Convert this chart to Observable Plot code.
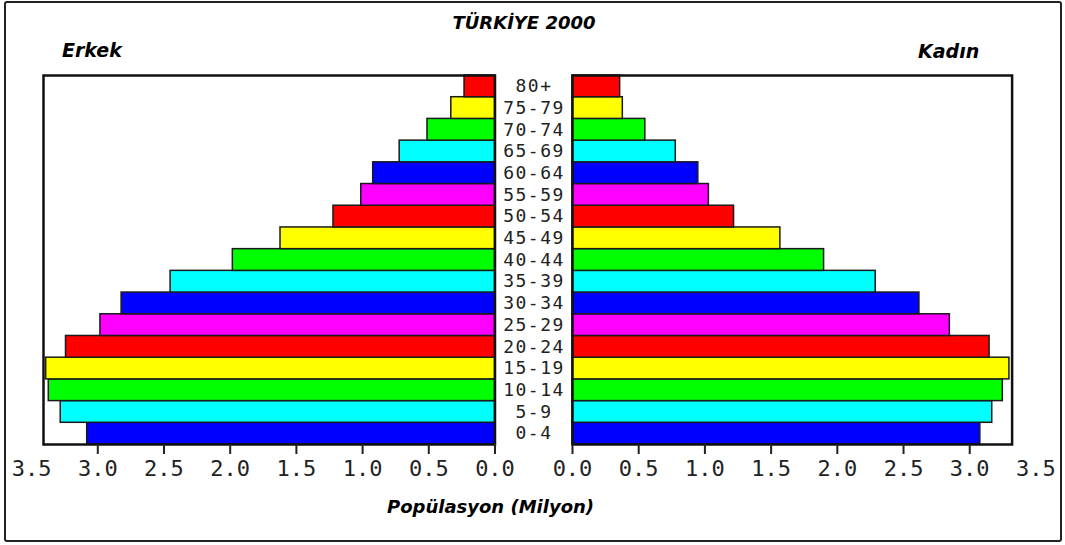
<!DOCTYPE html>
<html><head><meta charset="utf-8">
<script src="https://cdn.jsdelivr.net/npm/d3@7"></script>
<script src="https://cdn.jsdelivr.net/npm/@observablehq/plot@0.6"></script>
<style>
body{margin:0;background:#fff;}
#wrap{position:relative;width:1065px;height:545px;overflow:hidden;background:#fff;font-family:"DejaVu Sans",sans-serif;}
.lbl{position:absolute;font-weight:bold;font-style:italic;color:#000;white-space:nowrap;line-height:1;}
#border{position:absolute;left:4px;top:1px;width:1054px;height:537px;border:2px solid #222;border-radius:3px;}
#left,#right{position:absolute;top:0;}
#left{left:0;} #right{left:495px;}
</style></head><body>
<div id="wrap">
<div id="border"></div>
<div class="lbl" style="left:0;width:1048px;text-align:center;top:14px;font-size:18px">TÜRKİYE 2000</div>
<div class="lbl" style="left:62px;top:41px;font-size:19px">Erkek</div>
<div class="lbl" style="left:918px;top:42px;font-size:19px">Kadın</div>
<div class="lbl" style="left:0;width:981px;text-align:center;top:498px;font-size:18px">Popülasyon (Milyon)</div>
<div id="left"></div>
<div id="right"></div>
</div>
<script>
const ages = ["0-4","5-9","10-14","15-19","20-24","25-29","30-34","35-39","40-44","45-49","50-54","55-59","60-64","65-69","70-74","75-79","80+"];
const male = [3.08,3.28,3.37,3.39,3.24,2.98,2.82,2.45,1.98,1.62,1.22,1.01,0.92,0.72,0.51,0.33,0.23];
const female = [3.08,3.17,3.25,3.30,3.15,2.85,2.62,2.29,1.90,1.57,1.22,1.03,0.95,0.78,0.55,0.38,0.36];
const palette = ["#0000ff","#00ffff","#00ff00","#ffff00","#ff0000","#ff00ff"];
const tickLabels = [0,0.5,1,1.5,2,2.5,3,3.5];
const tickMarks = [0,0.5,1,1.5,2,2.5,3];

const rows = ages.map((a,i)=>({age:a, male:male[i], female:female[i]}));
const agesTop = ages.slice().reverse();
const style = {fontFamily:"'DejaVu Sans Mono', monospace", fontSize:"22px", color:"#222", background:"transparent", overflow:"visible"};

function axisMarks(){
  return [
    Plot.axisX({ticks: tickMarks, tickSize: 10, tickFormat: () => "", label: null, stroke:"#222", strokeWidth: 2}),
    Plot.axisX({ticks: tickLabels, tickSize: 0, tickPadding: 16, tickFormat: d => d.toFixed(1), label: null, fontSize: 22, fill:"#222"})
  ];
}

const left = Plot.plot({
  width: 572, height: 490,
  marginLeft: 43, marginRight: 77.5, marginTop: 75, marginBottom: 46,
  style,
  x: {domain: [0, 3.41], reverse: true, axis: null},
  y: {domain: agesTop, padding: 0, round: false, axis: null},
  color: {domain: ages, range: palette},
  marks: [
    Plot.barX(rows, {x: "male", y: "age", fill: "age", stroke: "#1a1a1a", strokeWidth: 1.5}),
    Plot.frame({stroke: "#111", strokeWidth: 2.5}),
    ...axisMarks(),
    Plot.text(rows, {y: "age", text: "age", frameAnchor: "right", dx: 39, textAnchor: "middle", fontSize: 18, fill: "#222", style: "letter-spacing:1.5px"})
  ]
});
left.querySelectorAll("text").forEach(t => { if (ages.includes(t.textContent)) t.setAttribute("letter-spacing", "1.5"); });
document.getElementById("left").appendChild(left);

const right = Plot.plot({
  width: 570, height: 490,
  marginLeft: 77, marginRight: 53.4, marginTop: 75, marginBottom: 46,
  style,
  x: {domain: [0, 3.32], axis: null},
  y: {domain: agesTop, padding: 0, round: false, axis: null},
  color: {domain: ages, range: palette},
  marks: [
    Plot.barX(rows, {x: "female", y: "age", fill: "age", stroke: "#1a1a1a", strokeWidth: 1.5}),
    Plot.frame({stroke: "#111", strokeWidth: 2.5}),
    ...axisMarks()
  ]
});
document.getElementById("right").appendChild(right);
</script>
</body></html>
